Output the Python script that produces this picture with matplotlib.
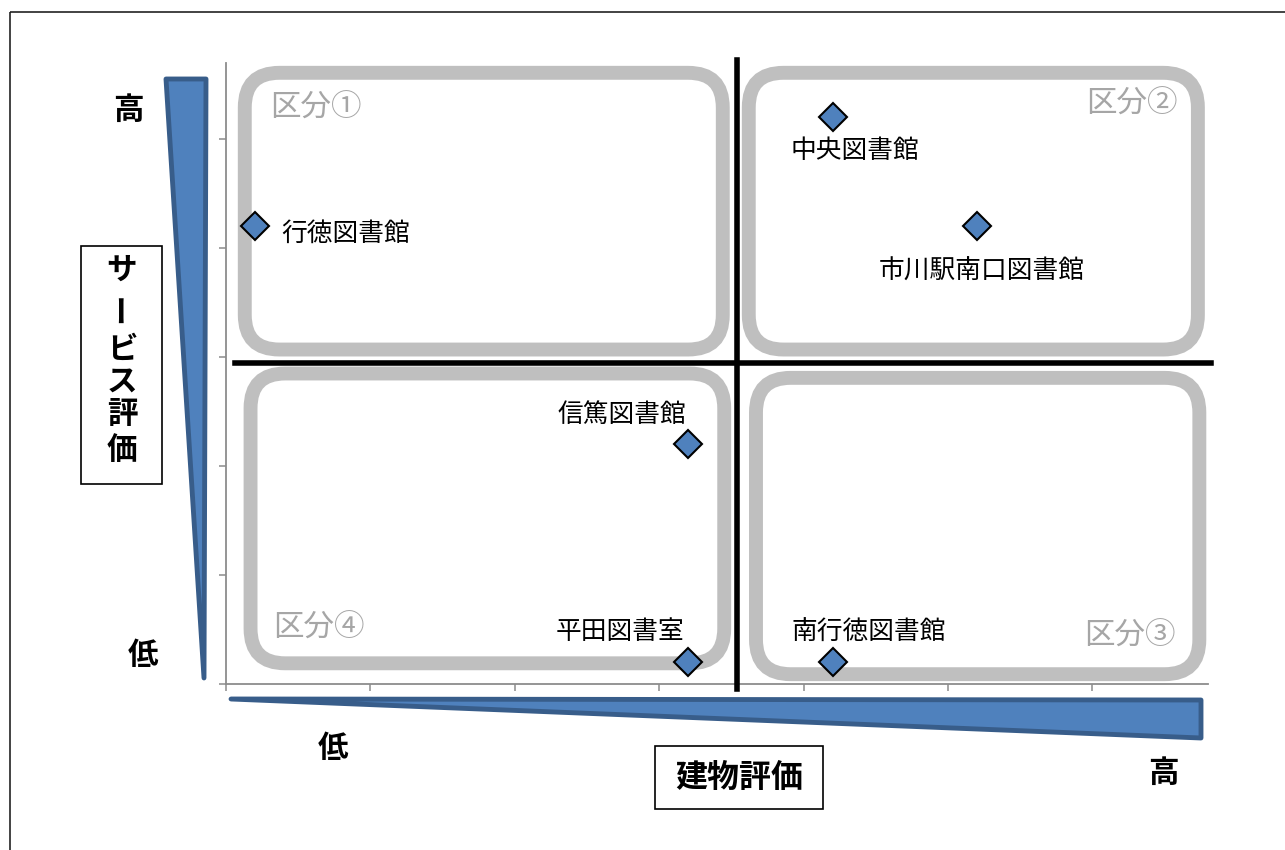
import matplotlib.pyplot as plt
from matplotlib.patches import FancyBboxPatch, Polygon, Rectangle

plt.rcParams['font.family'] = ['Noto Sans CJK JP', 'DejaVu Sans']

# libraries: building score (x) vs service score (y)
names = ["行徳図書館", "中央図書館", "市川駅南口図書館", "信篤図書館", "平田図書室", "南行徳図書館"]
building = [0.2, 4.2, 5.2, 3.2, 3.2, 4.2]
service = [4.2, 5.2, 4.2, 2.2, 0.2, 0.2]
# label offsets from the marker (pixels)
label_dx = [26, 22, 5, -66, -68, 36]
label_dy = [-7, -34, -45, 29, 30, 29]
label_ha = ["left", "center", "center", "center", "center", "center"]

x_split = 3.54
y_split = 2.95
zones = ["区分①", "区分②", "区分③", "区分④"]

BLUE = "#4F81BD"
DARK = "#385D8A"
GRAY = "#BFBFBF"

fig = plt.figure(figsize=(12.85, 8.5), dpi=100)

# background layer in pixel coordinates for the decorations
bg = fig.add_axes([0, 0, 1, 1])
bg.set_xlim(0, 1285)
bg.set_ylim(850, 0)
bg.axis("off")
bg.add_patch(Rectangle((10, 12), 1300, 860, fill=False, edgecolor="#222222", lw=1.2))

# arrow-like wedges
bg.add_patch(Polygon([(166, 79), (206, 79), (204, 678)], closed=True,
                     facecolor=BLUE, edgecolor=DARK, lw=3.5, joinstyle="round"))
bg.add_patch(Polygon([(231, 699), (1201, 700), (1201, 738)], closed=True,
                     facecolor=BLUE, edgecolor=DARK, lw=3.5, joinstyle="round"))

bold = dict(fontsize=22, fontweight="bold", ha="center", va="center")
bg.text(128, 110, "高", **bold)
bg.text(143, 655, "低", **bold)
bg.text(333, 748, "低", **bold)
bg.text(1163, 773, "高", **bold)

# axis title boxes
bg.add_patch(Rectangle((81, 246), 81, 238, fill=False, edgecolor="black", lw=1.2))
v_chars = ["サ", "ー", "ビ", "ス", "評", "価"]
v_pos = [270, 308, 350, 382, 414, 450]
for ch, yy in zip(v_chars, v_pos):
    bg.text(122, yy, ch, rotation=90 if ch == "ー" else 0, **bold)
bg.add_patch(Rectangle((655, 746), 168, 63, fill=False, edgecolor="black", lw=1.2))
bg.text(739, 778, "建物評価", fontsize=23, fontweight="bold", ha="center", va="center")

# main chart
ax = fig.add_axes([226 / 1285, 1 - 684 / 850, 982 / 1285, 621 / 850])
ax.patch.set_alpha(0)
ax.set_xlim(0, 6.8)
ax.set_ylim(0, 5.7)
for s in ["top", "right"]:
    ax.spines[s].set_visible(False)
for s in ["left", "bottom"]:
    ax.spines[s].set_color("#8C8C8C")
    ax.spines[s].set_linewidth(1.3)
ax.set_xticks(range(0, 7))
ax.set_yticks(range(0, 6))
ax.tick_params(direction="out", length=5, width=1.1, color="#8C8C8C",
               labelbottom=False, labelleft=False)

# rounded zone frames (x0, y0, x1, y1 in data units)
px_ratio = (982 / 6.8) / (621 / 5.7)  # x pixels per unit / y pixels per unit
frames = [(0.13, 3.07, 3.44, 5.61), (3.62, 3.07, 6.73, 5.61),
          (3.67, 0.09, 6.74, 2.81), (0.17, 0.19, 3.45, 2.85)]
for x0, y0, x1, y1 in frames:
    ax.add_patch(FancyBboxPatch((x0, y0), x1 - x0, y1 - y0,
                                boxstyle="round,pad=0,rounding_size=0.24",
                                mutation_aspect=px_ratio,
                                fill=False, edgecolor=GRAY, lw=10, zorder=1))

zkw = dict(fontsize=22, color="#A6A6A6", va="center")
ax.annotate(zones[0], (0.13, 5.61), xytext=(25, -35), textcoords="offset pixels", ha="left", **zkw)
ax.annotate(zones[1], (6.73, 5.61), xytext=(-20, -31), textcoords="offset pixels", ha="right", **zkw)
ax.annotate(zones[2], (6.74, 0.09), xytext=(-24, 38), textcoords="offset pixels", ha="right", **zkw)
ax.annotate(zones[3], (0.17, 0.19), xytext=(23, 35), textcoords="offset pixels", ha="left", **zkw)

# quadrant dividers
ax.plot([x_split, x_split], [-0.05, 5.73], color="black", lw=4, clip_on=False, zorder=3)
ax.plot([0.06, 6.82], [y_split, y_split], color="black", lw=4, clip_on=False, zorder=3)

ax.plot(building, service, "D", ms=14, color=BLUE, markeredgecolor="black",
        markeredgewidth=1.5, linestyle="none", zorder=4, clip_on=False)
for n, x, y, dx, dy, ha in zip(names, building, service, label_dx, label_dy, label_ha):
    ax.annotate(n, (x, y), xytext=(dx, dy), textcoords="offset pixels",
                ha=ha, va="center", fontsize=18.5, zorder=5)

fig.savefig("out.png", dpi=100)
